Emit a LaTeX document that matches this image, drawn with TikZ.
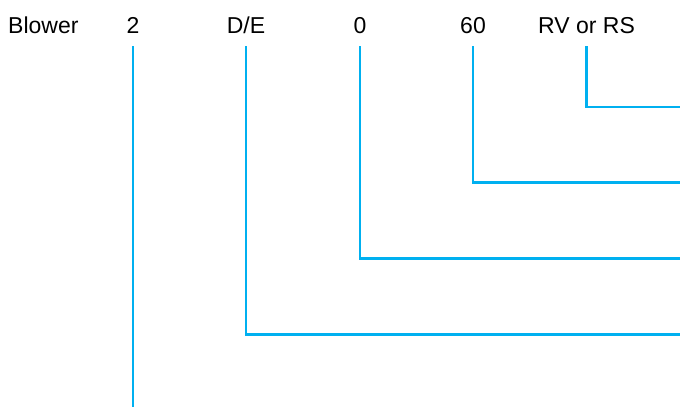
\documentclass[tikz,border=0pt]{standalone}
\usepackage{fontspec}
\setmainfont{Liberation Sans}
\definecolor{linkblue}{RGB}{0,176,240}
\begin{document}
\begin{tikzpicture}[x=1bp,y=-1bp,
  lbl/.style={inner sep=0pt,anchor=base,font=\fontsize{23bp}{27bp}\selectfont},
  conn/.style={draw=linkblue,line width=2.8bp}]
\useasboundingbox (0,0) rectangle (680,407);
\node[lbl,anchor=base west] (t1) at (8,33.3) {Blower};
\node[lbl] (t2) at (133,33.3) {2};
\node[lbl] (t3) at (246,33.3) {D/E};
\node[lbl] (t4) at (360,33.3) {0};
\node[lbl] (t5) at (473,33.3) {60};
\node[lbl] (t6) at (586.5,33.3) {RV or RS};
\coordinate (e1) at (680,107);
\coordinate (e2) at (680,182.7);
\coordinate (e3) at (680,258.7);
\coordinate (e4) at (680,334.5);
\coordinate (e5) at (133,407);
\draw[conn] (t6.base) ++(0,12.7) |- (e1);
\draw[conn] (t5.base) ++(0,12.7) |- (e2);
\draw[conn] (t4.base) ++(0,12.7) |- (e3);
\draw[conn] (t3.base) ++(0,12.7) |- (e4);
\draw[conn] (t2.base) ++(0,12.7) -- (e5);
\end{tikzpicture}
\end{document}
